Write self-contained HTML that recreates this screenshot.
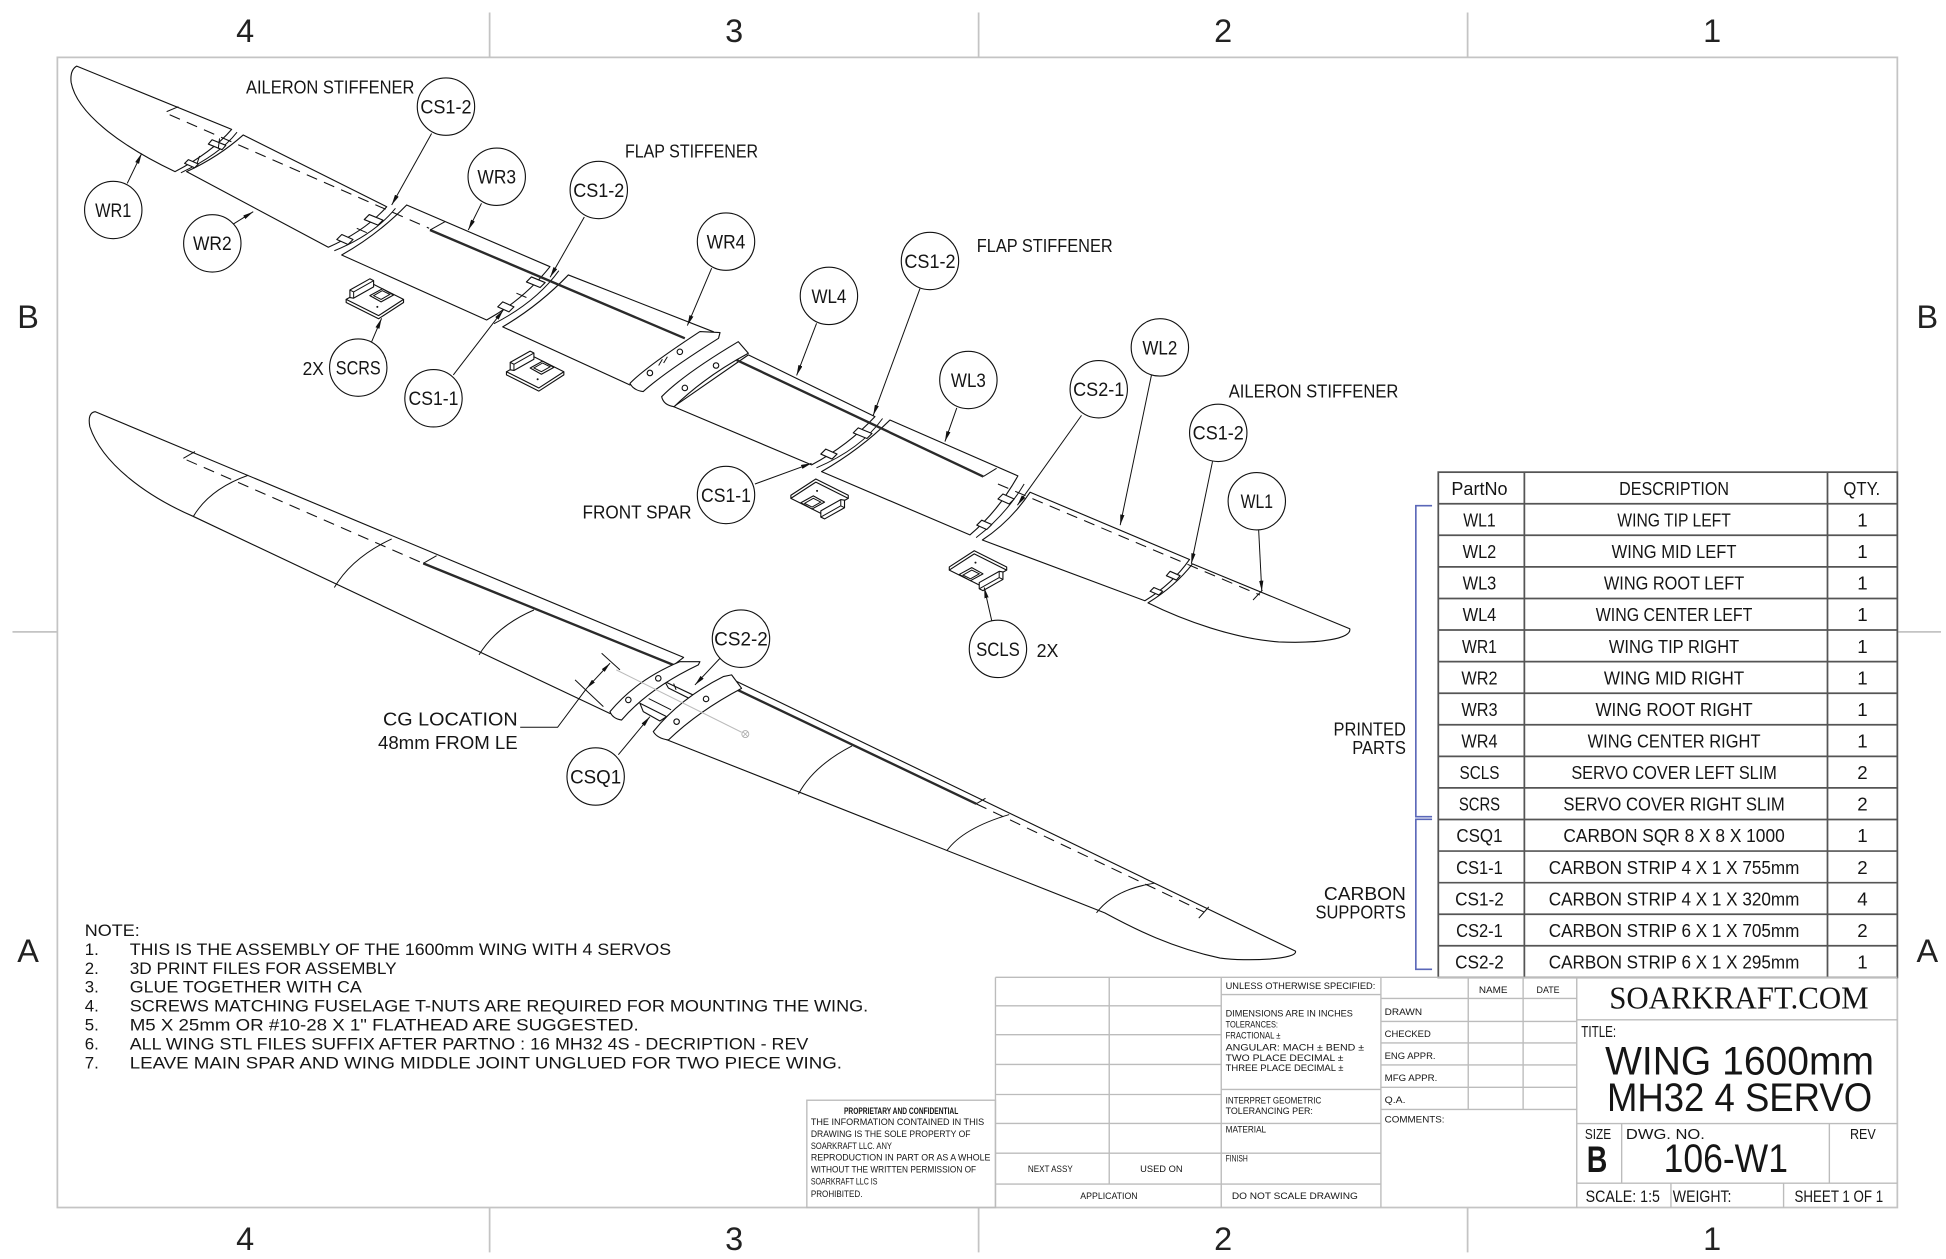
<!DOCTYPE html>
<html><head><meta charset="utf-8"><style>
html,body{margin:0;padding:0;background:#fff;}
svg{display:block}
</style></head><body>
<svg xmlns="http://www.w3.org/2000/svg" width="1946" height="1259" viewBox="0 0 1560 1009.27" preserveAspectRatio="none">
<style>
.w{fill:#fff;stroke:#111;stroke-width:.9;stroke-linejoin:round}
.l{fill:none;stroke:#111;stroke-width:.8}
.d{fill:none;stroke:#111;stroke-width:.85;stroke-dasharray:9 6}
.sp{fill:none;stroke:#2a2a2a;stroke-width:1.9}
.c{fill:#fff;stroke:#111;stroke-width:.9}
.ld{fill:none;stroke:#111;stroke-width:.8;marker-end:url(#a)}
.fr{fill:none;stroke:#c4c4c4;stroke-width:1.4}
.tb{fill:none;stroke:#bcbcbc;stroke-width:1.1}
.tl{fill:none;stroke:#555;stroke-width:1.4}
text{font-family:"Liberation Sans",Arial,sans-serif;fill:#151515}
.lb{font-size:15.5px;text-anchor:middle}
.zn{font-size:26px;text-anchor:middle;fill:#222}
.tt{font-size:15px;text-anchor:middle}
.nt{font-size:13.5px}
.s{font-size:7.6px}
.sm{font-size:7.6px;text-anchor:middle}
</style>
<defs>
<marker id="a" viewBox="0 0 10 4" refX="10" refY="2" markerWidth="8.5" markerHeight="3.4" markerUnits="userSpaceOnUse" orient="auto"><path d="M0,0L10,2L0,4Z" fill="#111"/></marker>
<marker id="b" viewBox="0 0 10 4" refX="10" refY="2" markerWidth="8" markerHeight="3.2" markerUnits="userSpaceOnUse" orient="auto-start-reverse"><path d="M0,0L10,2L0,4Z" fill="#111"/></marker>
<g id="sc">
<path class="w" d="M-23,0 L-23,2.5 L3,15.5 L23,2.5 L23,0"/>
<path class="w" d="M-23,0 L-1,-12 L23,0 L3,13 Z"/>
<path class="w" d="M-20,-1.5 L-20,-7.5 L-4,-16.5 L-1,-15 L-1,-10 L-17,-1 Z"/>
<path class="l" d="M-20,-7.5 L-17,-6 L-1,-15 M-17,-6 L-17,-1"/>
<path class="w" d="M-4,-3 L6,-8.5 L15,-3.5 L5,2 Z"/>
<path class="l" d="M-1,-3 L6,-7 L12,-4 L5,0 Z"/>
<circle cx="2" cy="6" r="0.8" fill="#111"/>
</g>
</defs>

<!-- frame and zones -->
<rect class="fr" x="46" y="46" width="1475" height="922"/>
<path class="fr" d="M392.5,10V46M784.5,10V46M1176.5,10V46M392.5,968V1004M784.5,968V1004M1176.5,968V1004M10,506.5H46M1521,506.5H1556"/>
<text class="zn" x="196.5" y="33.5">4</text>
<text class="zn" x="588.5" y="33.5">3</text>
<text class="zn" x="980.5" y="33.5">2</text>
<text class="zn" x="1372.5" y="33.5">1</text>
<text class="zn" x="196.5" y="1002">4</text>
<text class="zn" x="588.5" y="1002">3</text>
<text class="zn" x="980.5" y="1002">2</text>
<text class="zn" x="1372.5" y="1002">1</text>
<text class="zn" x="22.5" y="263">B</text>
<text class="zn" x="22.5" y="771">A</text>
<text class="zn" x="1545" y="263">B</text>
<text class="zn" x="1545" y="771">A</text>

<!-- ===== upper exploded wing ===== -->
<path class="w" d="M61.5,53 L185.7,103.7 Q170,122 140.3,137.6 C103,120 62,93 57,66 Q56,56 61.5,53 Z"/>
<path class="w" d="M195,108.2 L310,165.7 Q293,185 263.2,198.2 L149.6,137.6 Q175,126 195,108.2 Z"/>
<path class="w" d="M326,164.3 L440.9,213.8 Q420,240 390.1,256.5 L273.9,204.4 Q303,188 326,164.3 Z"/>
<path class="w" d="M455.6,220.4 L572,266 L505,308.6 L403,262 Q432,245 455.6,220.4 Z"/>
<path class="w" d="M599.9,284.5 L701.4,334 Q680,357 650.6,372.7 L540,326 Z"/>
<path class="w" d="M713.4,336.7 L816,381.5 Q800,410 777.5,428.8 L658.6,378.1 Q690,360 713.4,336.7 Z"/>
<path class="w" d="M825.8,394.6 L953.6,448.5 Q940,468 917.8,481.6 L787.5,432.9 Q810,418 825.8,394.6 Z"/>
<path class="w" d="M956,452 L1082,504 C1084,512 1058,516 1025,514.6 C990,512 950,498 920.3,483.3 Q942,470 956,452 Z"/>

<!-- joint hardware -->
<path class="l" d="M190,106 Q176,124 145,138.5"/>
<path class="w" d="M170,112 L181,116.5 L178,120 L167,115.5 Z"/>
<path class="w" d="M151,128 L159,131.5 L156,134.5 L148,131 Z"/>
<path class="l" d="M176,111 L175,119 M160,125 L158,131"/>
<path class="l" d="M317,167 Q300,188 268,201"/>
<path class="w" d="M296,172 L307,176.5 L303,180.5 L292,176 Z"/>
<path class="w" d="M274,188 L283,192 L279,196 L270,192 Z"/>
<path class="l" d="M286,183 L294,186.5"/>
<path class="l" d="M448,217 Q430,242 396,259.5"/>
<path class="w" d="M426,222 L437,226.5 L433,230.5 L422,226 Z"/>
<path class="w" d="M403,242 L412,246 L408,250 L399,246 Z"/>
<path class="l" d="M414,235 L422,238.5"/>
<path class="l" d="M707.5,335.5 Q690,360 654.5,375"/>
<path class="w" d="M688,343 L699,347.5 L695,351.5 L684,347 Z"/>
<path class="w" d="M662,360 L671,364 L667,368 L658,364 Z"/>
<path class="l" d="M821,388 Q806,413 782.5,431"/>
<path class="w" d="M804,396 L813,400 L809,404 L800,400 Z"/>
<path class="w" d="M787,417 L795,420.5 L791,424.5 L783,421 Z"/>
<path class="w" d="M938,458 L946,461.5 L943,465 L935,461.5 Z"/>
<path class="w" d="M925,471 L932,474 L929,477 L922,474 Z"/>

<!-- spars / dashed -->
<path class="d" d="M136,92 L344,183"/>
<path class="l" d="M133.6,89.5 L143,85.5"/>
<path class="sp" d="M344.7,184.4 L549,271.2"/>
<path class="l" d="M344.7,184.4 L356.7,177.7"/>
<path class="sp" d="M590.5,288.6 L788.2,382"/>
<path class="l" d="M788.2,382 L798.9,375.4"/>
<path class="d" d="M800,388 L1010,477"/>
<path class="l" d="M1004.5,481 L1012,473"/>

<!-- root caps upper -->
<path class="w" d="M505,307.3 Q518,294 561.1,265.8 L577.2,266.6 L576,271.2 Q532,299 515.6,313.9 Q508,313 505,307.3 Z"/>
<circle class="c" cx="521" cy="299" r="2.2"/>
<circle class="c" cx="545" cy="282" r="2.2"/>
<path class="l" d="M528,293 L531,288 M532,291 L535,286"/>
<path class="w" d="M530.4,318 Q548,300 591.8,273.9 L599.9,283.2 Q565,302 540.4,326 Q532,325 530.4,318 Z"/>
<circle class="c" cx="549" cy="311" r="2.2"/>
<circle class="c" cx="574" cy="293" r="2.2"/>

<!-- servo covers -->
<use href="#sc" transform="translate(300.5,240)"/>
<use href="#sc" transform="translate(429,298)"/>
<use href="#sc" transform="translate(657,399.5) rotate(180)"/>
<use href="#sc" transform="translate(784,457) rotate(180)"/>

<!-- ===== lower assembled wing ===== -->
<path class="w" d="M76.2,330 L548,527 L489,572 L155,414 C118,398 82,372 72,342 Q70,331 76.2,330 Z"/>
<path class="w" d="M590,546 L1038.5,762.5 C1041,769 1000,771 978,768 C940,760 910,745 885.6,731.8 L532,592 Z"/>
<path class="l" d="M155,414 Q168,392 199,381 M268,471 Q282,447 314,432 M384,525 Q398,502 428,489"/>
<path class="l" d="M640,636.7 Q652,614 683,598 M759,682 Q772,664 809,653 M879,731.8 Q893,713 925.5,708"/>
<path class="d" d="M149.6,368.7 L339.3,451.6"/>
<path class="l" d="M147,367.4 L156.3,362"/>
<path class="sp" d="M339.3,451.6 L539.7,533"/>
<path class="l" d="M339.3,451.6 L350,445.5"/>
<path class="sp" d="M586.5,550.8 L782.6,644.4"/>
<path class="l" d="M782.6,644.4 L790,640"/>
<path class="d" d="M782.6,644.4 L965,731"/>
<path class="l" d="M961,736 L969,727"/>
<!-- centre joint -->
<path class="w" d="M533,546.4 L558.5,558.5 L555.8,561.5 L535.8,551.5 Z"/>
<path class="w" d="M513,563.8 L534.4,574.5 L529,578 L515.7,570.5 Z"/>
<path class="l" d="M520,560 L538,569 M540,548 L542,553"/>
<path class="w" d="M489,570.5 Q510,545 545.1,530.4 L561.1,530.4 L559.8,533 Q520,552 498.3,577.2 Q491,576 489,570.5 Z"/>
<circle class="c" cx="503.7" cy="561.1" r="2.2"/>
<circle class="c" cx="527.7" cy="543.8" r="2.2"/>
<path class="w" d="M523.7,586.5 Q545,560 579.8,542.4 L586.5,541 L594.5,551.8 Q560,570 535.8,593.2 Q527,592 523.7,586.5 Z"/>
<circle class="c" cx="542.4" cy="578.5" r="2.2"/>
<circle class="c" cx="566" cy="560.3" r="2.2"/>
<path d="M494,537 L594.5,587" fill="none" stroke="#bbb" stroke-width=".8"/>
<circle cx="597.5" cy="588.5" r="2.8" fill="none" stroke="#aaa" stroke-width=".7"/>
<path d="M595.5,586.5 L599.5,590.5 M599.5,586.5 L595.5,590.5" stroke="#aaa" stroke-width=".6"/>
<!-- CG dimension -->
<path class="l" d="M482.3,523.7 L497,537 M461,545 L483.7,566.5"/>
<path class="l" d="M470.3,551.8 L489,531.7" marker-start="url(#b)" marker-end="url(#b)"/>
<path class="l" d="M470.3,551.8 L447,583 L417,583"/>

<!-- ===== callouts ===== -->
<path class="ld" d="M102,147 L113.6,123"/>
<path class="ld" d="M185.7,180.4 L203,169.7"/>
<path class="ld" d="M346,107 L314,164.3"/>
<path class="ld" d="M386,163 L375.4,184.4"/>
<path class="ld" d="M468.4,174 L441,222.3"/>
<path class="ld" d="M570.5,215 L551,261"/>
<path class="ld" d="M654.6,259.2 L638.6,301"/>
<path class="ld" d="M737.5,231.3 L700,333"/>
<path class="ld" d="M767,327 L757.5,354"/>
<path class="ld" d="M867,333 L815.6,405"/>
<path class="ld" d="M923,301 L898,421"/>
<path class="ld" d="M972,370 L955,452"/>
<path class="ld" d="M1009,425 L1011.5,474"/>
<path class="ld" d="M297.9,274 L305.9,255.2"/>
<path class="ld" d="M363.4,300.6 L403.5,248.5"/>
<path class="ld" d="M605.2,388 L650.6,371.4"/>
<path class="ld" d="M795,497.5 L789,471"/>
<path class="ld" d="M577.2,527.7 L557.1,549.1"/>
<path class="ld" d="M495.7,605 L521,574.5"/>

<circle class="c" cx="90.8" cy="168.3" r="23"/><text class="lb" x="90.8" y="173.8" textLength="29" lengthAdjust="spacingAndGlyphs">WR1</text>
<circle class="c" cx="170.2" cy="195.1" r="23"/><text class="lb" x="170.2" y="200.6" textLength="31" lengthAdjust="spacingAndGlyphs">WR2</text>
<circle class="c" cx="357.5" cy="85.5" r="23"/><text class="lb" x="357.5" y="91" textLength="41" lengthAdjust="spacingAndGlyphs">CS1-2</text>
<circle class="c" cx="398.2" cy="141.7" r="23"/><text class="lb" x="398.2" y="147.2" textLength="31" lengthAdjust="spacingAndGlyphs">WR3</text>
<circle class="c" cx="480" cy="152.3" r="23"/><text class="lb" x="480" y="157.8" textLength="41" lengthAdjust="spacingAndGlyphs">CS1-2</text>
<circle class="c" cx="582" cy="193.7" r="23"/><text class="lb" x="582" y="199.2" textLength="31" lengthAdjust="spacingAndGlyphs">WR4</text>
<circle class="c" cx="664.5" cy="237.2" r="23"/><text class="lb" x="664.5" y="242.7" textLength="28" lengthAdjust="spacingAndGlyphs">WL4</text>
<circle class="c" cx="745.5" cy="209.2" r="23"/><text class="lb" x="745.5" y="214.7" textLength="41" lengthAdjust="spacingAndGlyphs">CS1-2</text>
<circle class="c" cx="776.3" cy="304.6" r="23"/><text class="lb" x="776.3" y="310.1" textLength="28" lengthAdjust="spacingAndGlyphs">WL3</text>
<circle class="c" cx="880.8" cy="312" r="23"/><text class="lb" x="880.8" y="317.5" textLength="41" lengthAdjust="spacingAndGlyphs">CS2-1</text>
<circle class="c" cx="929.8" cy="278.5" r="23"/><text class="lb" x="929.8" y="284" textLength="28" lengthAdjust="spacingAndGlyphs">WL2</text>
<circle class="c" cx="976.6" cy="347" r="23"/><text class="lb" x="976.6" y="352.5" textLength="41" lengthAdjust="spacingAndGlyphs">CS1-2</text>
<circle class="c" cx="1007.5" cy="401.8" r="23"/><text class="lb" x="1007.5" y="407.3" textLength="26" lengthAdjust="spacingAndGlyphs">WL1</text>
<circle class="c" cx="287.2" cy="294.7" r="23"/><text class="lb" x="287.2" y="300.2" textLength="36" lengthAdjust="spacingAndGlyphs">SCRS</text>
<circle class="c" cx="347.5" cy="319.3" r="23"/><text class="lb" x="347.5" y="324.8" textLength="40" lengthAdjust="spacingAndGlyphs">CS1-1</text>
<circle class="c" cx="582" cy="396.8" r="23"/><text class="lb" x="582" y="402.3" textLength="40" lengthAdjust="spacingAndGlyphs">CS1-1</text>
<circle class="c" cx="800" cy="520.2" r="23"/><text class="lb" x="800" y="525.7" textLength="35" lengthAdjust="spacingAndGlyphs">SCLS</text>
<circle class="c" cx="594" cy="512" r="23"/><text class="lb" x="594" y="517.5" textLength="43" lengthAdjust="spacingAndGlyphs">CS2-2</text>
<circle class="c" cx="477.5" cy="622.5" r="23"/><text class="lb" x="477.5" y="628" textLength="41" lengthAdjust="spacingAndGlyphs">CSQ1</text>

<text x="197.2" y="74.8" font-size="15" textLength="135" lengthAdjust="spacingAndGlyphs">AILERON STIFFENER</text>
<text x="501" y="126.3" font-size="15" textLength="106.7" lengthAdjust="spacingAndGlyphs">FLAP STIFFENER</text>
<text x="783" y="202" font-size="15" textLength="109" lengthAdjust="spacingAndGlyphs">FLAP STIFFENER</text>
<text x="985" y="318.5" font-size="15" textLength="136" lengthAdjust="spacingAndGlyphs">AILERON STIFFENER</text>
<text x="467" y="415.5" font-size="15" textLength="87.4" lengthAdjust="spacingAndGlyphs">FRONT SPAR</text>
<text x="242.6" y="300.6" font-size="15" textLength="17" lengthAdjust="spacingAndGlyphs">2X</text>
<text x="831" y="526.5" font-size="15" textLength="17.5" lengthAdjust="spacingAndGlyphs">2X</text>
<text x="307" y="581.5" font-size="15" textLength="108" lengthAdjust="spacingAndGlyphs">CG LOCATION</text>
<text x="303" y="600.5" font-size="15" textLength="112" lengthAdjust="spacingAndGlyphs">48mm FROM LE</text>

<!-- ===== notes ===== -->
<text class="nt" x="68" y="750.5" textLength="44" lengthAdjust="spacingAndGlyphs">NOTE:</text>
<text class="nt" x="68" y="765.5">1.</text><text class="nt" x="104" y="765.5" textLength="434" lengthAdjust="spacingAndGlyphs">THIS IS THE ASSEMBLY OF THE 1600mm WING WITH 4 SERVOS</text>
<text class="nt" x="68" y="780.7">2.</text><text class="nt" x="104" y="780.7" textLength="214" lengthAdjust="spacingAndGlyphs">3D PRINT FILES FOR ASSEMBLY</text>
<text class="nt" x="68" y="795.8">3.</text><text class="nt" x="104" y="795.8" textLength="186" lengthAdjust="spacingAndGlyphs">GLUE TOGETHER WITH CA</text>
<text class="nt" x="68" y="811">4.</text><text class="nt" x="104" y="811" textLength="592" lengthAdjust="spacingAndGlyphs">SCREWS MATCHING FUSELAGE T-NUTS ARE REQUIRED FOR MOUNTING THE WING.</text>
<text class="nt" x="68" y="826.1">5.</text><text class="nt" x="104" y="826.1" textLength="408" lengthAdjust="spacingAndGlyphs">M5 X 25mm OR #10-28 X 1" FLATHEAD ARE SUGGESTED.</text>
<text class="nt" x="68" y="841.2">6.</text><text class="nt" x="104" y="841.2" textLength="544" lengthAdjust="spacingAndGlyphs">ALL WING STL FILES SUFFIX AFTER PARTNO :  16 MH32 4S - DECRIPTION - REV</text>
<text class="nt" x="68" y="856.4">7.</text><text class="nt" x="104" y="856.4" textLength="571" lengthAdjust="spacingAndGlyphs">LEAVE MAIN SPAR AND WING MIDDLE JOINT UNGLUED FOR TWO PIECE WING.</text>

<!-- ===== BOM table ===== -->
<path d="M1148,405.4 H1135 V654.7 H1148 M1148,656.8 H1135 V777 H1148" fill="none" stroke="#5a67b8" stroke-width="1.3"/>
<text x="1127" y="589.5" font-size="15" text-anchor="end" textLength="58" lengthAdjust="spacingAndGlyphs">PRINTED</text>
<text x="1127" y="604.5" font-size="15" text-anchor="end" textLength="43" lengthAdjust="spacingAndGlyphs">PARTS</text>
<text x="1127" y="721.5" font-size="15" text-anchor="end" textLength="65.7" lengthAdjust="spacingAndGlyphs">CARBON</text>
<text x="1127" y="736.2" font-size="15" text-anchor="end" textLength="72.4" lengthAdjust="spacingAndGlyphs">SUPPORTS</text>
<rect class="tl" x="1153" y="378.5" width="368" height="405"/>
<path class="tl" d="M1222,378.5V783.5M1465,378.5V783.5M1153,403.8H1521M1153,429.1H1521M1153,454.4H1521M1153,479.75H1521M1153,505.06H1521M1153,530.4H1521M1153,555.7H1521M1153,581H1521M1153,606.3H1521M1153,631.6H1521M1153,656.9H1521M1153,682.25H1521M1153,707.6H1521M1153,732.9H1521M1153,758.2H1521"/>
<text class="tt" x="1186" y="396.7" textLength="45" lengthAdjust="spacingAndGlyphs">PartNo</text>
<text class="tt" x="1342" y="396.7" textLength="88" lengthAdjust="spacingAndGlyphs">DESCRIPTION</text>
<text class="tt" x="1492.5" y="396.7" textLength="29.5" lengthAdjust="spacingAndGlyphs">QTY.</text>

<text class="tt" x="1186" y="422" textLength="26" lengthAdjust="spacingAndGlyphs">WL1</text><text class="tt" x="1342" y="422" textLength="91" lengthAdjust="spacingAndGlyphs">WING TIP LEFT</text><text class="tt" x="1493" y="422">1</text>
<text class="tt" x="1186" y="447.3" textLength="27" lengthAdjust="spacingAndGlyphs">WL2</text><text class="tt" x="1342" y="447.3" textLength="100" lengthAdjust="spacingAndGlyphs">WING MID LEFT</text><text class="tt" x="1493" y="447.3">1</text>
<text class="tt" x="1186" y="472.6" textLength="27" lengthAdjust="spacingAndGlyphs">WL3</text><text class="tt" x="1342" y="472.6" textLength="112.5" lengthAdjust="spacingAndGlyphs">WING ROOT LEFT</text><text class="tt" x="1493" y="472.6">1</text>
<text class="tt" x="1186" y="498" textLength="27" lengthAdjust="spacingAndGlyphs">WL4</text><text class="tt" x="1342" y="498" textLength="125.5" lengthAdjust="spacingAndGlyphs">WING CENTER LEFT</text><text class="tt" x="1493" y="498">1</text>
<text class="tt" x="1186" y="523.3" textLength="28" lengthAdjust="spacingAndGlyphs">WR1</text><text class="tt" x="1342" y="523.3" textLength="104.5" lengthAdjust="spacingAndGlyphs">WING TIP RIGHT</text><text class="tt" x="1493" y="523.3">1</text>
<text class="tt" x="1186" y="548.6" textLength="29" lengthAdjust="spacingAndGlyphs">WR2</text><text class="tt" x="1342" y="548.6" textLength="112.5" lengthAdjust="spacingAndGlyphs">WING MID RIGHT</text><text class="tt" x="1493" y="548.6">1</text>
<text class="tt" x="1186" y="573.9" textLength="29" lengthAdjust="spacingAndGlyphs">WR3</text><text class="tt" x="1342" y="573.9" textLength="126" lengthAdjust="spacingAndGlyphs">WING ROOT RIGHT</text><text class="tt" x="1493" y="573.9">1</text>
<text class="tt" x="1186" y="599.2" textLength="29" lengthAdjust="spacingAndGlyphs">WR4</text><text class="tt" x="1342" y="599.2" textLength="138.6" lengthAdjust="spacingAndGlyphs">WING CENTER RIGHT</text><text class="tt" x="1493" y="599.2">1</text>
<text class="tt" x="1186" y="624.5" textLength="32" lengthAdjust="spacingAndGlyphs">SCLS</text><text class="tt" x="1342" y="624.5" textLength="164.7" lengthAdjust="spacingAndGlyphs">SERVO COVER LEFT SLIM</text><text class="tt" x="1493" y="624.5">2</text>
<text class="tt" x="1186" y="649.8" textLength="33" lengthAdjust="spacingAndGlyphs">SCRS</text><text class="tt" x="1342" y="649.8" textLength="177.4" lengthAdjust="spacingAndGlyphs">SERVO COVER RIGHT SLIM</text><text class="tt" x="1493" y="649.8">2</text>
<text class="tt" x="1186" y="675.1" textLength="37" lengthAdjust="spacingAndGlyphs">CSQ1</text><text class="tt" x="1342" y="675.1" textLength="177.4" lengthAdjust="spacingAndGlyphs">CARBON SQR 8 X 8 X 1000</text><text class="tt" x="1493" y="675.1">1</text>
<text class="tt" x="1186" y="700.5" textLength="37.5" lengthAdjust="spacingAndGlyphs">CS1-1</text><text class="tt" x="1342" y="700.5" textLength="200.9" lengthAdjust="spacingAndGlyphs">CARBON STRIP 4 X 1 X 755mm</text><text class="tt" x="1493" y="700.5">2</text>
<text class="tt" x="1186" y="725.8" textLength="39" lengthAdjust="spacingAndGlyphs">CS1-2</text><text class="tt" x="1342" y="725.8" textLength="200.9" lengthAdjust="spacingAndGlyphs">CARBON STRIP 4 X 1 X 320mm</text><text class="tt" x="1493" y="725.8">4</text>
<text class="tt" x="1186" y="751.1" textLength="37.5" lengthAdjust="spacingAndGlyphs">CS2-1</text><text class="tt" x="1342" y="751.1" textLength="200.9" lengthAdjust="spacingAndGlyphs">CARBON STRIP 6 X 1 X 705mm</text><text class="tt" x="1493" y="751.1">2</text>
<text class="tt" x="1186" y="776.4" textLength="39" lengthAdjust="spacingAndGlyphs">CS2-2</text><text class="tt" x="1342" y="776.4" textLength="200.9" lengthAdjust="spacingAndGlyphs">CARBON STRIP 6 X 1 X 295mm</text><text class="tt" x="1493" y="776.4">1</text>

<!-- ===== title block ===== -->
<rect class="tb" x="646.8" y="882" width="151.2" height="86"/>
<path class="tb" d="M798,783.5 H1521 M798,783.5 V968 M889.2,783.5 V949.2 M979,783.5 V968 M1107,783.5 V968 M1264,783.5 V968
M798,806.3 H979 M798,829.5 H979 M798,853.3 H979 M798,877.4 H979 M798,900.6 H1107 M798,924.4 H1107 M798,949.2 H1107
M979,797.3 H1107 M979,873.3 H1107
M1107,800.4 H1264 M1107,818.8 H1264 M1107,836.1 H1264 M1107,853.7 H1264 M1107,871.6 H1264 M1107,889.4 H1264
M1177,783.5 V889.4 M1221,783.5 V889.4
M1264,817.5 H1521 M1264,900.7 H1521 M1264,948.5 H1521
M1300,900.7 V948.5 M1466.5,900.7 V948.5 M1339.5,948.5 V968 M1429.8,948.5 V968"/>

<text x="722.4" y="893" font-size="7.6" font-weight="bold" text-anchor="middle" textLength="91.6" lengthAdjust="spacingAndGlyphs">PROPRIETARY AND CONFIDENTIAL</text>
<text class="s" x="650" y="902" textLength="139" lengthAdjust="spacingAndGlyphs">THE INFORMATION CONTAINED IN THIS</text>
<text class="s" x="650" y="911.5" textLength="128" lengthAdjust="spacingAndGlyphs">DRAWING IS THE SOLE PROPERTY OF</text>
<text class="s" x="650" y="921" textLength="65" lengthAdjust="spacingAndGlyphs">SOARKRAFT LLC.  ANY</text>
<text class="s" x="650" y="930.5" textLength="144" lengthAdjust="spacingAndGlyphs">REPRODUCTION IN PART OR AS A WHOLE</text>
<text class="s" x="650" y="940" textLength="132.5" lengthAdjust="spacingAndGlyphs">WITHOUT THE WRITTEN PERMISSION OF</text>
<text class="s" x="650" y="949.5" textLength="53.4" lengthAdjust="spacingAndGlyphs">SOARKRAFT LLC IS</text>
<text class="s" x="650" y="959.5" textLength="41.4" lengthAdjust="spacingAndGlyphs">PROHIBITED.</text>

<text class="sm" x="842" y="939.5" textLength="36" lengthAdjust="spacingAndGlyphs">NEXT ASSY</text>
<text class="sm" x="931" y="939.5" textLength="34" lengthAdjust="spacingAndGlyphs">USED ON</text>
<text class="sm" x="889" y="961" textLength="46" lengthAdjust="spacingAndGlyphs">APPLICATION</text>
<text class="sm" x="1038" y="961" textLength="101" lengthAdjust="spacingAndGlyphs">DO NOT SCALE DRAWING</text>

<text class="s" x="982.5" y="793" textLength="120" lengthAdjust="spacingAndGlyphs">UNLESS OTHERWISE SPECIFIED:</text>
<text class="s" x="982.5" y="815" textLength="102" lengthAdjust="spacingAndGlyphs">DIMENSIONS ARE IN INCHES</text>
<text class="s" x="982.5" y="823.7" textLength="42" lengthAdjust="spacingAndGlyphs">TOLERANCES:</text>
<text class="s" x="982.5" y="832.7" textLength="44" lengthAdjust="spacingAndGlyphs">FRACTIONAL ±</text>
<text class="s" x="982.5" y="842.2" textLength="111" lengthAdjust="spacingAndGlyphs">ANGULAR: MACH ±    BEND ±</text>
<text class="s" x="982.5" y="850.5" textLength="94.5" lengthAdjust="spacingAndGlyphs">TWO PLACE DECIMAL    ±</text>
<text class="s" x="982.5" y="858.7" textLength="94.5" lengthAdjust="spacingAndGlyphs">THREE PLACE DECIMAL   ±</text>
<text class="s" x="982.5" y="884.7" textLength="76.7" lengthAdjust="spacingAndGlyphs">INTERPRET GEOMETRIC</text>
<text class="s" x="982.5" y="892.9" textLength="70" lengthAdjust="spacingAndGlyphs">TOLERANCING PER:</text>
<text class="s" x="982.5" y="907.9" textLength="32.5" lengthAdjust="spacingAndGlyphs">MATERIAL</text>
<text class="s" x="982.5" y="931.1" textLength="17.8" lengthAdjust="spacingAndGlyphs">FINISH</text>

<text class="sm" x="1197" y="796" textLength="23" lengthAdjust="spacingAndGlyphs">NAME</text>
<text class="sm" x="1241" y="796" textLength="18.5" lengthAdjust="spacingAndGlyphs">DATE</text>
<text class="s" x="1110" y="813.5" textLength="30" lengthAdjust="spacingAndGlyphs">DRAWN</text>
<text class="s" x="1110" y="831.5" textLength="37" lengthAdjust="spacingAndGlyphs">CHECKED</text>
<text class="s" x="1110" y="849" textLength="40.8" lengthAdjust="spacingAndGlyphs">ENG APPR.</text>
<text class="s" x="1110" y="866.5" textLength="42.2" lengthAdjust="spacingAndGlyphs">MFG APPR.</text>
<text class="s" x="1110" y="884.3" textLength="16.7" lengthAdjust="spacingAndGlyphs">Q.A.</text>
<text class="s" x="1110" y="900" textLength="48" lengthAdjust="spacingAndGlyphs">COMMENTS:</text>

<text x="1394" y="808.4" style="font-family:'Liberation Serif','Times New Roman',serif" font-size="25" text-anchor="middle" textLength="208" lengthAdjust="spacingAndGlyphs">SOARKRAFT.COM</text>
<text x="1267.6" y="831.2" font-size="12.5" textLength="28" lengthAdjust="spacingAndGlyphs">TITLE:</text>
<text x="1286.7" y="861.4" font-size="32" textLength="215.6" lengthAdjust="spacingAndGlyphs">WING 1600mm</text>
<text x="1288.2" y="890.8" font-size="32" textLength="212.6" lengthAdjust="spacingAndGlyphs">MH32 4 SERVO</text>
<text x="1270.5" y="913" font-size="12" textLength="21" lengthAdjust="spacingAndGlyphs">SIZE</text>
<text x="1272" y="939.7" font-size="30" font-weight="bold" textLength="16.5" lengthAdjust="spacingAndGlyphs">B</text>
<text x="1303.4" y="913" font-size="12" textLength="63.3" lengthAdjust="spacingAndGlyphs">DWG.  NO.</text>
<text x="1333.6" y="939.7" font-size="32" textLength="99.7" lengthAdjust="spacingAndGlyphs">106-W1</text>
<text x="1483" y="913" font-size="12" textLength="20.7" lengthAdjust="spacingAndGlyphs">REV</text>
<text x="1271.1" y="963.5" font-size="13" textLength="59.6" lengthAdjust="spacingAndGlyphs">SCALE: 1:5</text>
<text x="1341" y="963.5" font-size="13" textLength="47" lengthAdjust="spacingAndGlyphs">WEIGHT:</text>
<text x="1438.6" y="963.5" font-size="13" textLength="71" lengthAdjust="spacingAndGlyphs">SHEET 1 OF 1</text>
</svg>
</body></html>
